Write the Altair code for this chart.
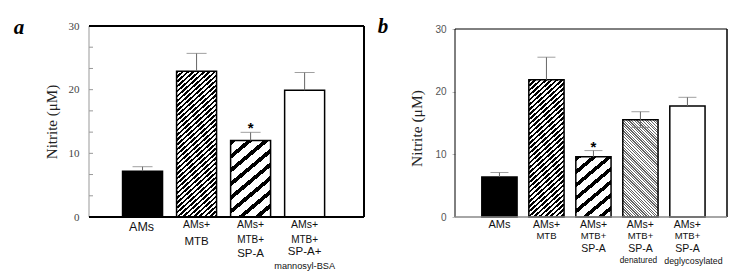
import math
import altair as alt
import pandas as pd

# ---------------- data ----------------
a_groups = ["AMs", "AMs+MTB", "AMs+MTB+SP-A", "AMs+MTB+SP-A+mannosyl-BSA"]
a_values = [7.2, 22.9, 12.0, 19.9]
a_err_lo = [7.2, 22.9, 12.0, 19.9]
a_err_hi = [7.9, 25.7, 13.3, 22.7]
a_star = ["", "", "*", ""]
a_label_lines = [["AMs"], ["AMs+", "MTB"], ["AMs+", "MTB+", "SP-A"],
                 ["AMs+", "MTB+", "SP-A+", "mannosyl-BSA"]]

b_groups = ["AMs", "AMs+MTB", "AMs+MTB+SP-A", "AMs+MTB+SP-A denatured",
            "AMs+MTB+SP-A deglycosylated"]
b_values = [6.4, 21.9, 9.6, 15.5, 17.7]
b_err_lo = [6.4, 21.9, 9.6, 14.3, 17.7]
b_err_hi = [7.1, 25.5, 10.6, 16.8, 19.1]
b_star = ["", "", "*", "", ""]
b_label_lines = [["AMs"], ["AMs+", "MTB"], ["AMs+", "MTB+", "SP-A"],
                 ["AMs+", "MTB+", "SP-A", "denatured"],
                 ["AMs+", "MTB+", "SP-A", "deglycosylated"]]

y_axis_max = 30
y_major = [0, 10, 20, 30]
a_ticks = [0, 3.33, 6.67, 10, 13.33, 16.67, 20, 23.33, 26.67, 30]

# ---------------- styles ----------------
SERIF = "Liberation Serif"
SANS = "Liberation Sans"

# label line offsets (px below the plot), font sizes, x shifts
a_label_dy = [[10], [8.3, 25], [8.3, 22.6, 36.6], [8.3, 22.6, 35, 49]]
a_label_fs = [[12.5], [10.5, 11.5], [10.5, 10, 11.5], [10.5, 10, 11.5, 9.2]]
a_label_dx = [[-1], [0, 0], [0, 0, 0], [0, 0, 0, 0]]
b_label_dy = [[8.4], [7.7, 18.7], [7.7, 19.4, 31.7], [7.7, 19.4, 31.7, 44.4],
              [7.7, 19.4, 31.7, 44.4]]
b_label_fs = [[11], [10.5, 9.5], [10.5, 9.5, 10.5], [10.5, 9.5, 10.5, 8.3],
              [10.5, 9.5, 10.5, 8.8]]
b_label_dx = [[0], [0, 0], [0, 0, 0], [0, 0, 0, -2], [0, 0, 0, 6]]

a_fills = [("solid", "#000000"),
           ("stripe", 3.6, 0.5, 42, "/", "#000000"),
           ("stripe", 10.5, 0.36, 40, "/", "#000000"),
           ("solid", "#ffffff")]
b_fills = [("solid", "#000000"),
           ("stripe", 3.6, 0.5, 42, "/", "#000000"),
           ("stripe", 10.0, 0.36, 40, "/", "#000000"),
           ("stripe", 1.9, 0.45, 45, "\\", "#666666"),
           ("solid", "#ffffff")]


def stripe_gradient(w, h, period, duty, angle, direction, fg, bg="#ffffff"):
    a = math.radians(angle)
    sa, ca = math.sin(a), math.cos(a)
    L = w * sa + h * ca
    D = (w * sa) ** 2 + (h * ca) ** 2
    k = L / D
    if direction == "/":
        x1, y1, x2, y2 = 0, 0, k * w * sa, k * h * ca
    else:
        x1, y1, x2, y2 = 0, 1, k * w * sa, 1 - k * h * ca
    step = period / L
    stops = []
    i = 0
    while True:
        s0 = i * step
        if s0 >= 1:
            break
        s1 = min(s0 + duty * step, 1)
        for off, col in ((s0, bg), (s0, fg), (s1, fg), (s1, bg)):
            stops.append({"offset": round(off, 5), "color": col})
        i += 1
    return {"gradient": "linear", "x1": x1, "y1": y1, "x2": x2, "y2": y2,
            "stops": stops}


def make_fill(spec, w, h):
    if spec[0] == "solid":
        return spec[1]
    _, period, duty, angle, direction, fg = spec
    return stripe_gradient(w, h, period, duty, angle, direction, fg)


def panel(groups, values, lo, hi, stars, lines, line_dy, line_fs, line_dx,
          fills, W, H, frame_h, pin, pout, align, letter, letter_xy, axis,
          ticks_layer, frame):
    n = len(groups)
    step = W / (n - pin + 2 * pout)
    bw = step * (1 - pin)
    ymax = y_axis_max * H / frame_h          # room above the frame
    per_px = y_axis_max / frame_h            # data units per pixel
    sx = alt.Scale(domain=groups, paddingInner=pin, paddingOuter=pout,
                   align=align)
    sy = alt.Scale(domain=[0, ymax], nice=False, zero=True)
    X = alt.X("g:N", scale=sx, axis=None)

    def Y(field):
        return alt.Y(field, scale=sy, axis=axis)

    layers = []
    for i, g in enumerate(groups):
        h = values[i] / per_px
        fill = make_fill(fills[i], bw, h)
        df = pd.DataFrame({"g": [g], "v": [values[i]]})
        layers.append(
            alt.Chart(df).mark_bar(fill=fill, stroke="#000000",
                                   strokeWidth=frame["bar_sw"],
                                   strokeOpacity=1)
            .encode(x=X, y=Y("v:Q"))
        )
    err = pd.DataFrame({"g": groups, "v": values, "lo": lo, "hi": hi,
                        "star": stars})
    base = alt.Chart(err)
    layers.append(base.mark_rule(color="#666666", strokeWidth=1).encode(
        x=X, y=Y("lo:Q"), y2="hi:Q"))
    layers.append(base.mark_tick(color="#777777", thickness=1,
                                 size=frame["cap"]).encode(
        x=X, y=Y("hi:Q")))
    layers.append(base.transform_filter("datum.lo < datum.v")
                  .mark_tick(color="#777777", thickness=1,
                             size=frame["cap"]).encode(
        x=X, y=Y("lo:Q")))
    layers.append(base.transform_filter("datum.star != ''")
                  .mark_text(font=SANS, fontSize=15, fontWeight="bold",
                             baseline="alphabetic", dy=frame["star_dy"],
                             color="#000000")
                  .encode(x=X, y=Y("hi:Q"), text="star:N"))
    # category labels
    rows = []
    for i, g in enumerate(groups):
        for j, t in enumerate(lines[i]):
            rows.append({"g": g, "t": t, "yv": -line_dy[i][j] * per_px,
                         "fs": line_fs[i][j], "dx": line_dx[i][j]})
    lab = pd.DataFrame(rows)
    for dxv in sorted(set(lab["dx"])):
        sub = lab[lab["dx"] == dxv]
        layers.append(alt.Chart(sub).mark_text(font=SANS, baseline="middle",
                                               color="#111111", dx=float(dxv))
                      .encode(x=X, y=Y("yv:Q"), text="t:N",
                              size=alt.Size("fs:Q", scale=None, legend=None)))
    if ticks_layer is not None:
        tdf = pd.DataFrame({"t": ticks_layer})
        layers.append(alt.Chart(tdf).mark_rule(color="#999999",
                                               strokeWidth=1)
                      .encode(y=Y("t:Q"), x=alt.value(0), x2=alt.value(4)))
    # frame
    fr = pd.DataFrame({"top": [y_axis_max], "bot": [0]})
    fc = alt.Chart(fr)
    layers.append(fc.mark_rule(color=frame["left_c"],
                               strokeWidth=frame["left_w"])
                  .encode(x=alt.value(0), y=Y("bot:Q"), y2="top:Q"))
    layers.append(fc.mark_rule(color=frame["top_c"],
                               strokeWidth=frame["top_w"])
                  .encode(x=alt.value(0), x2=alt.value(W), y=Y("top:Q")))
    layers.append(fc.mark_rule(color=frame["right_c"],
                               strokeWidth=frame["right_w"])
                  .encode(x=alt.value(W), y=Y("bot:Q"), y2="top:Q"))
    layers.append(fc.mark_rule(color=frame["bot_c"],
                               strokeWidth=frame["bot_w"])
                  .encode(x=alt.value(0), x2=alt.value(W), y=Y("bot:Q")))
    one = pd.DataFrame({"k": [0]})
    layers.append(alt.Chart(one).mark_text(text=letter, font=SERIF,
                                           fontSize=21, fontWeight="bold",
                                           fontStyle="italic",
                                           baseline="middle", align="center",
                                           color="#000000")
                  .encode(x=alt.value(letter_xy[0]), y=alt.value(letter_xy[1])))
    return alt.layer(*layers).properties(width=W, height=H)


WA, HA = 275, 191
WB, HB = 272, 191
FB = 188   # panel b frame height

axis_a = alt.Axis(values=y_major, format="d", ticks=False, tickSize=0,
                  labelFont=SERIF, labelFontSize=11, labelColor="#444444",
                  labelPadding=10, domain=False, grid=False,
                  title="Nitrite (μM)", titleFont=SERIF,
                  titleFontSize=15, titleFontWeight="normal",
                  titleColor="#222222", titleX=-38, titleY=HA / 2,
                  titleBaseline="middle", titleAngle=270)
axis_b = alt.Axis(values=y_major, format="d", ticks=True, tickSize=3,
                  tickColor="#bbbbbb", labelFont=SANS, labelFontSize=10,
                  labelColor="#555555", labelPadding=6,
                  domain=False, grid=False,
                  title="Nitrite (μM)", titleFont=SERIF, titleFontSize=15.5,
                  titleFontWeight="normal", titleColor="#222222",
                  titleX=-38.5, titleY=HB - FB / 2 + 5, titleBaseline="middle",
                  titleAngle=270)

frame_a = {"top_c": "#000000", "top_w": 2, "right_c": "#000000",
           "right_w": 2, "bot_c": "#000000", "bot_w": 2, "left_c": "#999999",
           "left_w": 1, "bar_sw": 1.5, "cap": 20, "star_dy": 1}
frame_b = {"top_c": "#000000", "top_w": 1, "right_c": "#000000",
           "right_w": 1.5, "bot_c": "#888888", "bot_w": 1.5,
           "left_c": "#000000", "left_w": 1, "bar_sw": 1.5, "cap": 18,
           "star_dy": 1}

pa = panel(a_groups, a_values, a_err_lo, a_err_hi, a_star, a_label_lines,
           a_label_dy, a_label_fs, a_label_dx, a_fills, WA, HA, HA,
           0.26, 0.675, 0.46, "a", (-70, 2), axis_a, a_ticks, frame_a)
pb = panel(b_groups, b_values, b_err_lo, b_err_hi, b_star, b_label_lines,
           b_label_dy, b_label_fs, b_label_dx, b_fills, WB, HB, FB,
           0.25, 0.519, 0.55, "b", (-72, 1), axis_b, None, frame_b)

chart = (alt.hconcat(pa, pb, spacing=12)
         .properties(padding={"left": 13, "top": 16, "right": 0, "bottom": 0},
                     background="#ffffff")
         .configure_view(stroke=None))

chart.save("out.html", embed_options={"renderer": "svg", "actions": False})
